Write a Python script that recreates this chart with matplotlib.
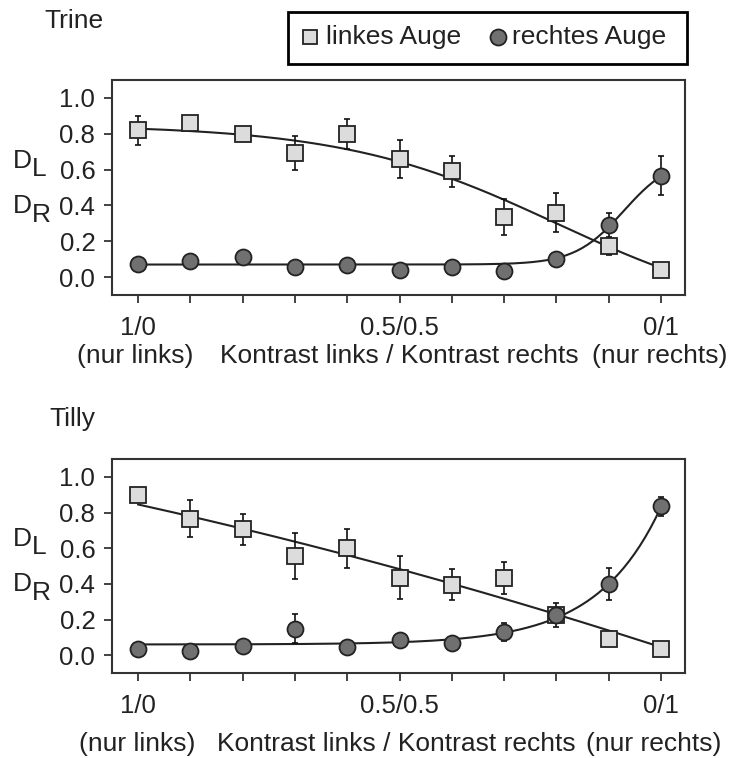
import numpy as np
import matplotlib
matplotlib.use("Agg")
import matplotlib.pyplot as plt
from matplotlib.lines import Line2D
from matplotlib.patches import Rectangle

plt.rcParams['font.family'] = ['Liberation Sans', 'DejaVu Sans']

# contrast steps 1/0 ... 0/1
steps = np.arange(11)
tick_labels = {0: "1/0", 5: "0.5/0.5", 10: "0/1"}

# Trine
trine_left = [0.82, 0.86, 0.80, 0.69, 0.80, 0.66, 0.59, 0.335, 0.36, 0.175, 0.04]
trine_left_err = [0.08, 0, 0, 0.095, 0.085, 0.105, 0.085, 0.10, 0.11, 0.05, 0]
trine_right = [0.073, 0.09, 0.11, 0.056, 0.065, 0.04, 0.056, 0.034, 0.10, 0.29, 0.566]
trine_right_err = [0, 0, 0, 0, 0, 0, 0, 0, 0, 0.07, 0.11]

# Tilly
tilly_left = [0.896, 0.766, 0.705, 0.557, 0.60, 0.435, 0.394, 0.435, 0.225, 0.093, 0.035]
tilly_left_err = [0, 0.105, 0.087, 0.13, 0.11, 0.12, 0.087, 0.09, 0, 0.02, 0]
tilly_right = [0.032, 0.025, 0.054, 0.149, 0.045, 0.087, 0.069, 0.128, 0.225, 0.398, 0.834]
tilly_right_err = [0, 0, 0, 0.083, 0, 0, 0, 0.05, 0.065, 0.088, 0.055]

# fitted curve parameters
trine_left_fit = (0.85, -0.25, 8.0, 2.05)     # hi, lo, midpoint, slope (falling logistic)
trine_right_fit = (0.07, 0.67, 9.29, 0.467)   # lo, hi, midpoint, slope (rising logistic)
tilly_left_fit = [-0.0015, -0.065, 0.845]     # quadratic
tilly_right_fit = (0.06, 0.77, 0.82)          # base, amplitude, rate (exponential)

legend_labels = ["linkes Auge", "rechtes Auge"]

W, H = 729, 758
SQ = dict(marker='s', markersize=11.5, markerfacecolor='#dcdcdc',
          markeredgecolor='#222222', markeredgewidth=1.3, linestyle='none')
CI = dict(marker='o', markersize=11.5, markerfacecolor='#707070',
          markeredgecolor='#222222', markeredgewidth=1.3, linestyle='none')


def px(x, y):
    return x / W, 1 - y / H


def falling(x, p):
    hi, lo, m, s = p
    return lo + (hi - lo) / (1 + np.exp((x - m) / s))


def rising(x, p):
    lo, hi, m, s = p
    return lo + (hi - lo) / (1 + np.exp(-(x - m) / s))


def panel(ax, left, left_err, right, right_err, left_curve, right_curve):
    xs = np.linspace(0, 10, 200)
    ax.plot(xs, left_curve(xs), color='#222222', lw=1.5, zorder=2)
    ax.plot(xs, right_curve(xs), color='#222222', lw=1.5, zorder=2)
    ax.errorbar(steps, left, yerr=left_err, fmt='none', ecolor='#111111',
                elinewidth=1.2, capsize=2.2, capthick=1.2, zorder=3)
    ax.errorbar(steps, right, yerr=right_err, fmt='none', ecolor='#111111',
                elinewidth=1.2, capsize=2.2, capthick=1.2, zorder=3)
    ax.plot(steps, left, zorder=4, **SQ)
    ax.plot(steps, right, zorder=5, **CI)
    ax.set_xlim(-0.5, 10.46)
    ax.set_ylim(-0.1, 1.1)
    ax.set_xticks(steps)
    ax.set_xticklabels([tick_labels.get(i, "") for i in steps])
    ax.set_yticks(np.arange(0, 1.01, 0.2))
    ax.set_yticklabels(["%.1f" % v for v in np.arange(0, 1.01, 0.2)])
    ax.tick_params(direction='out', length=6, width=1.2, colors='#222222',
                   labelsize=18.5, labelcolor='#222222')
    ax.tick_params(axis='x', pad=9)
    ax.tick_params(axis='y', pad=6)
    for sp in ax.spines.values():
        sp.set_color('#333333')
        sp.set_linewidth(1.5)


fig = plt.figure(figsize=(W / 100, H / 100), dpi=100)

ax1 = fig.add_axes([112 / W, 1 - 295 / H, 573 / W, 215 / H])
panel(ax1, trine_left, trine_left_err, trine_right, trine_right_err,
      lambda x: falling(x, trine_left_fit), lambda x: rising(x, trine_right_fit))

ax2 = fig.add_axes([112 / W, 1 - 673 / H, 573 / W, 214 / H])
panel(ax2, tilly_left, tilly_left_err, tilly_right, tilly_right_err,
      lambda x: np.polyval(tilly_left_fit, x),
      lambda x: tilly_right_fit[0] + tilly_right_fit[1] * np.exp(tilly_right_fit[2] * (x - 10)))

txt = dict(fontsize=19, color='#222222')

# titles
fig.text(*px(44, 21), "Trine", va='center', ha='left', **txt)
fig.text(*px(49, 419), "Tilly", va='center', ha='left', **txt)

# D_L / D_R labels
for yoff in (0, 378):
    fig.text(*px(13, 161 + yoff), "D", va='center', ha='left', **txt)
    fig.text(*px(32, 169 + yoff), "L", va='center', ha='left', **txt)
    fig.text(*px(13, 206 + yoff), "D", va='center', ha='left', **txt)
    fig.text(*px(32, 215 + yoff), "R", va='center', ha='left', **txt)

# axis description lines
fig.text(*px(135, 356), "(nur links)", va='center', ha='center', **txt)
fig.text(*px(399, 356), "Kontrast links / Kontrast rechts", va='center', ha='center', **txt)
fig.text(*px(727, 356), "(nur rechts)", va='center', ha='right', **txt)
fig.text(*px(137, 744), "(nur links)", va='center', ha='center', **txt)
fig.text(*px(396, 744), "Kontrast links / Kontrast rechts", va='center', ha='center', **txt)
fig.text(*px(721, 744), "(nur rechts)", va='center', ha='right', **txt)

# legend box
x0, y0 = px(288, 64)
x1, y1 = px(687, 12)
fig.add_artist(Rectangle((x0, y0), x1 - x0, y1 - y0, transform=fig.transFigure,
                         facecolor='white', edgecolor='black', linewidth=2))
fig.add_artist(Line2D([310 / W], [1 - 37 / H], transform=fig.transFigure,
                      **dict(SQ, markersize=10.5)))
fig.text(*px(326, 37), legend_labels[0], va='center', ha='left', **txt)
fig.add_artist(Line2D([498 / W], [1 - 37 / H], transform=fig.transFigure,
                      **dict(CI, markersize=11.5)))
fig.text(*px(512, 37), legend_labels[1], va='center', ha='left', **txt)

fig.savefig("out.png", dpi=100)
